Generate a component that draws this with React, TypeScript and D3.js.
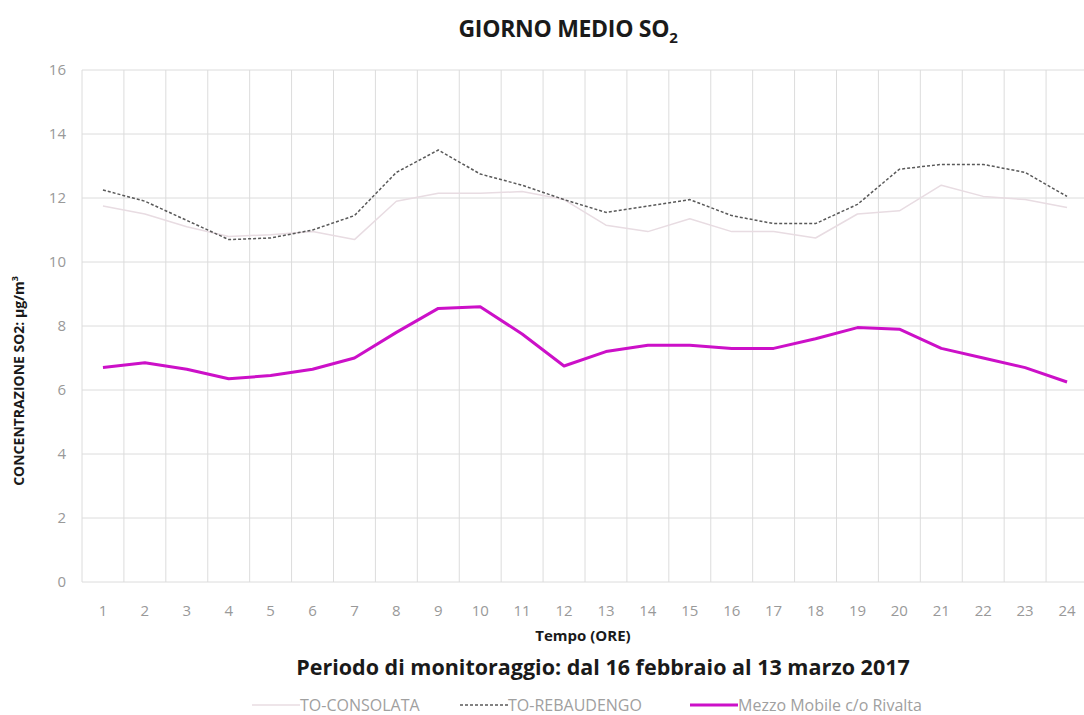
import React, { useEffect, useRef } from 'react';
import * as d3 from 'd3';

const hours = d3.range(1, 25).map(String);
const yTicks = [0, 2, 4, 6, 8, 10, 12, 14, 16];

const consolata = [11.75, 11.5, 11.1, 10.8, 10.85, 10.95, 10.7, 11.9, 12.15, 12.15, 12.2, 11.95,
  11.15, 10.95, 11.35, 10.95, 10.95, 10.75, 11.5, 11.6, 12.4, 12.05, 11.95, 11.7];
const rebaudengo = [12.25, 11.9, 11.3, 10.7, 10.75, 11.0, 11.45, 12.8, 13.5, 12.75, 12.4, 11.95,
  11.55, 11.75, 11.95, 11.45, 11.2, 11.2, 11.8, 12.9, 13.05, 13.05, 12.8, 12.05];
const rivalta = [6.7, 6.85, 6.65, 6.35, 6.45, 6.65, 7.0, 7.8, 8.55, 8.6, 7.75, 6.75,
  7.2, 7.4, 7.4, 7.3, 7.3, 7.6, 7.95, 7.9, 7.3, 7.0, 6.7, 6.25];

const seriesNames = ['TO-CONSOLATA', 'TO-REBAUDENGO', 'Mezzo Mobile c/o Rivalta'];

const W = 1084;
const H = 715;
const font = 'Open Sans, sans-serif';

const App = () => {
  const svgRef = useRef(null);

  useEffect(() => {
    const svg = d3.select(svgRef.current);
    svg.selectAll('*').remove();

    const x = d3.scaleBand().domain(hours).range([82, 1088]);
    const y = d3.scaleLinear().domain([0, 16]).range([582, 70]);

    const styles = [
      { data: consolata, color: '#e8dce2', width: 1.5, dash: null },
      { data: rebaudengo, color: '#595959', width: 1.5, dash: '3,2' },
      { data: rivalta, color: '#cc10c8', width: 3, dash: null },
    ];

    // gridlines
    svg.append('g')
      .selectAll('line')
      .data(yTicks)
      .enter()
      .append('line')
      .attr('x1', 82)
      .attr('x2', 1088)
      .attr('y1', d => y(d))
      .attr('y2', d => y(d))
      .attr('stroke', '#dcdcdc')
      .attr('stroke-width', 1);

    svg.append('g')
      .selectAll('line')
      .data(hours)
      .enter()
      .append('line')
      .attr('x1', d => x(d))
      .attr('x2', d => x(d))
      .attr('y1', y(16))
      .attr('y2', y(0))
      .attr('stroke', '#dcdcdc')
      .attr('stroke-width', 1);

    // tick labels
    svg.append('g')
      .selectAll('text')
      .data(yTicks)
      .enter()
      .append('text')
      .attr('x', 66)
      .attr('y', d => y(d) + 5)
      .attr('text-anchor', 'end')
      .style('font-family', font)
      .style('font-size', '15px')
      .style('fill', '#999999')
      .text(d => d);

    svg.append('g')
      .selectAll('text')
      .data(hours)
      .enter()
      .append('text')
      .attr('x', d => x(d) + x.bandwidth() / 2)
      .attr('y', 616)
      .attr('text-anchor', 'middle')
      .style('font-family', font)
      .style('font-size', '15px')
      .style('fill', '#999999')
      .text(d => d);

    // lines
    const line = d3.line()
      .x((d, i) => x(hours[i]) + x.bandwidth() / 2)
      .y(d => y(d));

    styles.forEach(s => {
      svg.append('path')
        .datum(s.data)
        .attr('d', line)
        .attr('fill', 'none')
        .attr('stroke', s.color)
        .attr('stroke-width', s.width)
        .attr('stroke-dasharray', s.dash)
        .attr('stroke-linejoin', 'round');
    });

    // titles
    const title = svg.append('text')
      .attr('x', 568)
      .attr('y', 37)
      .attr('text-anchor', 'middle')
      .style('font-family', font)
      .style('font-weight', 'bold')
      .style('font-size', '23px')
      .style('letter-spacing', '-0.3px')
      .style('fill', '#1a1a1a');
    title.append('tspan').text('GIORNO MEDIO SO');
    title.append('tspan').attr('dy', 6).style('font-size', '15px').text('2');

    const ylab = svg.append('text')
      .attr('transform', 'translate(24,381) rotate(-90)')
      .attr('text-anchor', 'middle')
      .style('font-family', font)
      .style('font-weight', 'bold')
      .style('font-size', '14px')
      .style('fill', '#1a1a1a');
    ylab.append('tspan').text('CONCENTRAZIONE SO2:  µg/m');
    ylab.append('tspan').attr('dy', -6).style('font-size', '9px').text('3');

    svg.append('text')
      .attr('x', 583)
      .attr('y', 641)
      .attr('text-anchor', 'middle')
      .style('font-family', font)
      .style('font-weight', 'bold')
      .style('font-size', '15px')
      .style('fill', '#1a1a1a')
      .text('Tempo (ORE)');

    svg.append('text')
      .attr('x', 603)
      .attr('y', 675)
      .attr('text-anchor', 'middle')
      .style('font-family', font)
      .style('font-weight', 'bold')
      .style('font-size', '21.5px')
      .style('fill', '#1a1a1a')
      .text('Periodo di monitoraggio: dal 16 febbraio al 13 marzo 2017');

    // legend
    const legendX = [252, 460, 690];
    const legend = svg.append('g')
      .selectAll('g')
      .data(styles)
      .enter()
      .append('g')
      .attr('transform', (d, i) => `translate(${legendX[i]},705)`);

    legend.append('line')
      .attr('x1', 0)
      .attr('x2', 48)
      .attr('stroke', d => d.color)
      .attr('stroke-width', d => d.width)
      .attr('stroke-dasharray', d => d.dash);

    legend.append('text')
      .attr('x', 48)
      .attr('y', 6)
      .style('font-family', font)
      .style('font-size', '16px')
      .style('fill', '#a0a0a0')
      .text((d, i) => seriesNames[i]);
  }, []);

  return <svg ref={svgRef} width={W} height={H} style={{ position: 'absolute', left: 0, top: 0, background: '#fff' }} />;
};

export default App;
